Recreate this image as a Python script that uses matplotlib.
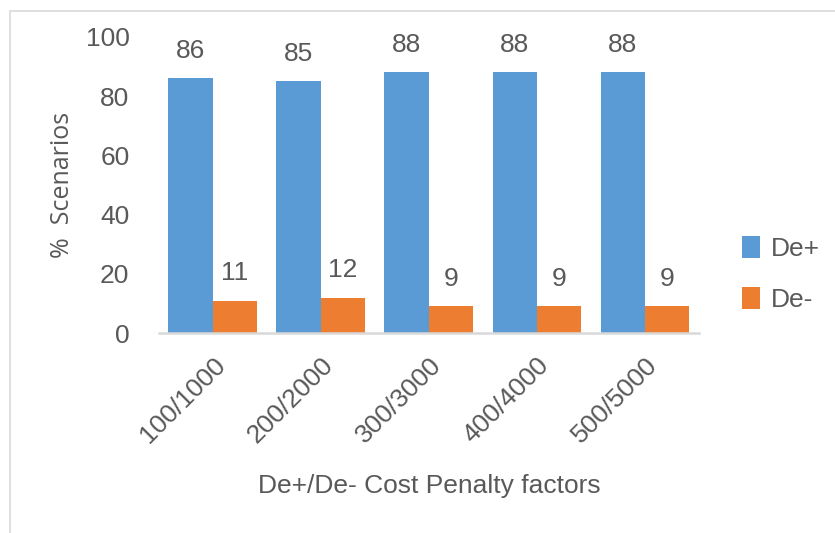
import numpy as np
import matplotlib.pyplot as plt
from matplotlib.patches import Rectangle

# chart values
categories = ["100/1000", "200/2000", "300/3000", "400/4000", "500/5000"]
de_plus = [86, 85, 88, 88, 88]
de_minus = [11, 12, 9, 9, 9]

plt.rcParams["font.family"] = ["Liberation Sans", "DejaVu Sans"]
text_color = "#595959"

fig = plt.figure(figsize=(8.35, 5.33), dpi=100)
ax = fig.add_axes([0.190, 0.375, 0.647, 0.556])

# light frame around the chart area
fig.patches.append(Rectangle((10 / 835, -0.1), 1.2, 1 - 11 / 533 + 0.1,
                             transform=fig.transFigure, fill=False,
                             edgecolor="#d9d9d9", linewidth=1.2))

x = np.arange(len(categories))
w = 0.41
b1 = ax.bar(x - w / 2, de_plus, w, color="#5B9BD5", label="De+")
b2 = ax.bar(x + w / 2, de_minus, w, color="#ED7D31", label="De-")

for bars in (b1, b2):
    for r in bars:
        ax.annotate(f"{r.get_height():.0f}", (r.get_x() + r.get_width() / 2, r.get_height()),
                    xytext=(0, 19.5), textcoords="offset points", ha="center", va="center",
                    fontsize=19, color=text_color)

ax.set_xlim(-0.5, len(categories) - 0.5)
ax.set_ylim(0, 100)
ax.set_yticks([0, 20, 40, 60, 80, 100])
ax.set_xticks(x)
ax.set_xticklabels(categories, rotation=45, ha="right", rotation_mode="anchor")
ax.tick_params(axis="both", length=0, labelsize=19, labelcolor=text_color)
ax.tick_params(axis="y", pad=21)
ax.tick_params(axis="x", pad=14)
for s in ["top", "right", "left"]:
    ax.spines[s].set_visible(False)
ax.spines["bottom"].set_color("#d9d9d9")
ax.spines["bottom"].set_linewidth(1.8)

ax.set_ylabel("%  Scenarios", fontsize=18, color=text_color, family=["Open Sans", "DejaVu Sans"])
ax.yaxis.set_label_coords(-0.155, 0.5)
fig.text(0.514, 0.088, "De+/De- Cost Penalty factors", ha="center", va="center",
         fontsize=19, color=text_color)

ax.legend(loc="center left", bbox_to_anchor=(1.035, 0.20), frameon=False, fontsize=19,
          labelcolor=text_color, handlelength=0.7, handleheight=0.9, handletextpad=0.4,
          labelspacing=1.0)

fig.savefig("out.png", dpi=100)
